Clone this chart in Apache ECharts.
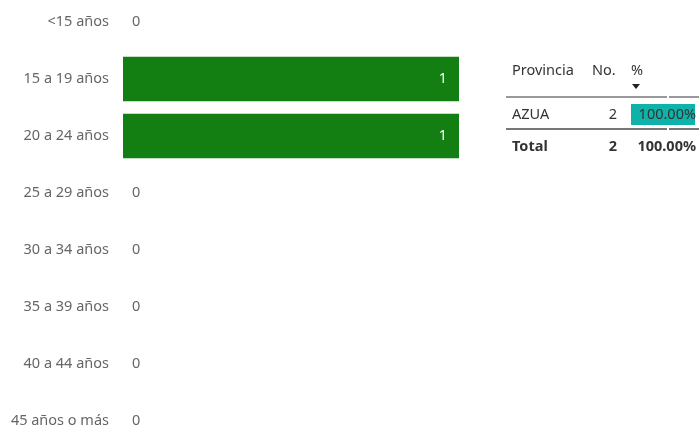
<!DOCTYPE html>
<html>
<head>
<meta charset="utf-8">
<script src="https://cdn.jsdelivr.net/npm/echarts@6/dist/echarts.min.js"></script>
<style>
  html, body { margin: 0; padding: 0; background: #fff; }
  #chart { width: 699px; height: 429px; }
</style>
</head>
<body>
<div id="chart"></div>
<script>
// age groups and counts
const AGE_GROUPS = ['<15 años', '15 a 19 años', '20 a 24 años', '25 a 29 años',
                    '30 a 34 años', '35 a 39 años', '40 a 44 años', '45 años o más'];
const AGE_COUNTS = [0, 1, 1, 0, 0, 0, 0, 0];

// province table
const TABLE_HEADERS = ['Provincia', 'No.', '%'];
const PROVINCES = ['AZUA'];
const PROVINCE_COUNTS = [2];
const PROVINCE_PCT = [100];
const TOTAL_LABEL = 'Total';
const TOTAL_COUNT = 2;
const TOTAL_PCT = 100;

const FONT = '"Noto Sans", "Open Sans", sans-serif';
const FS = 14.5;
const GREEN = '#137f13';
const TEAL = '#0fb2a8';
const LABEL_GREY = '#666666';
const TEXT_DARK = '#333333';

const chart = echarts.init(document.getElementById('chart'), null, { renderer: 'canvas' });

const fmtPct = v => v.toFixed(2) + '%';

/* ── table drawn with graphic elements ── */
const cell = (x, y, text, align, bold) => ({
    type: 'text', x, y, z: 10,
    style: {
        text, fill: TEXT_DARK,
        font: `${bold ? 'bold ' : ''}${FS}px ${FONT}`,
        textAlign: align || 'left', textVerticalAlign: 'middle'
    }
});

const graphics = [
    cell(512, 71, TABLE_HEADERS[0]),
    cell(592, 71, TABLE_HEADERS[1]),
    cell(631, 71, TABLE_HEADERS[2]),
    // sort arrow
    { type: 'polygon', shape: { points: [[632, 84], [640, 84], [636, 89]] }, style: { fill: '#222' } },
    { type: 'line', shape: { x1: 506, y1: 97, x2: 667, y2: 97 }, style: { stroke: '#999', lineWidth: 2 } },
    { type: 'line', shape: { x1: 669, y1: 97, x2: 699, y2: 97 }, style: { stroke: '#999', lineWidth: 2 } },
    { type: 'line', shape: { x1: 506, y1: 129, x2: 667, y2: 129 }, style: { stroke: '#777', lineWidth: 2 } },
    { type: 'line', shape: { x1: 669, y1: 129, x2: 699, y2: 129 }, style: { stroke: '#777', lineWidth: 2 } },
];
PROVINCES.forEach((p, i) => {
    const y = 115 + i * 32;
    graphics.push(cell(512, y, p));
    graphics.push(cell(617, y, String(PROVINCE_COUNTS[i]), 'right'));
    graphics.push(cell(696, y, fmtPct(PROVINCE_PCT[i]), 'right'));
});
graphics.push(cell(512, 147, TOTAL_LABEL, 'left', true));
graphics.push(cell(617, 147, String(TOTAL_COUNT), 'right', true));
graphics.push(cell(696, 147, fmtPct(TOTAL_PCT), 'right', true));

chart.setOption({
    animation: false,
    grid: [
        { left: 123, top: -6.5, width: 336, height: 456, outerBoundsMode: 'none' },
        // data bar cell in the % column
        { left: 631, top: 104, width: 64, height: 21, outerBoundsMode: 'none' }
    ],
    xAxis: [
        { gridIndex: 0, type: 'value', min: 0, max: 1, show: false },
        { gridIndex: 1, type: 'value', min: 0, max: 100, show: false }
    ],
    yAxis: [
        {
            gridIndex: 0,
            type: 'category',
            data: AGE_GROUPS,
            inverse: true,
            axisLine: { show: false },
            axisTick: { show: false },
            axisLabel: { color: LABEL_GREY, fontSize: FS, fontFamily: FONT, margin: 14 }
        },
        { gridIndex: 1, type: 'category', data: PROVINCES, show: false }
    ],
    series: [
        {
            type: 'bar',
            xAxisIndex: 0, yAxisIndex: 0,
            barCategoryGap: '22%',
            itemStyle: { color: GREEN },
            data: AGE_COUNTS.map(v => ({
                value: v,
                label: v > 0
                    ? { show: true, position: 'insideRight', distance: 12, color: '#fff', fontSize: FS, fontFamily: FONT }
                    : { show: true, position: 'right', distance: 9, color: LABEL_GREY, fontSize: FS, fontFamily: FONT }
            }))
        },
        {
            type: 'bar',
            xAxisIndex: 1, yAxisIndex: 1,
            barCategoryGap: 0,
            itemStyle: { color: TEAL },
            data: PROVINCE_PCT
        }
    ],
    graphic: graphics
});
</script>
</body>
</html>
